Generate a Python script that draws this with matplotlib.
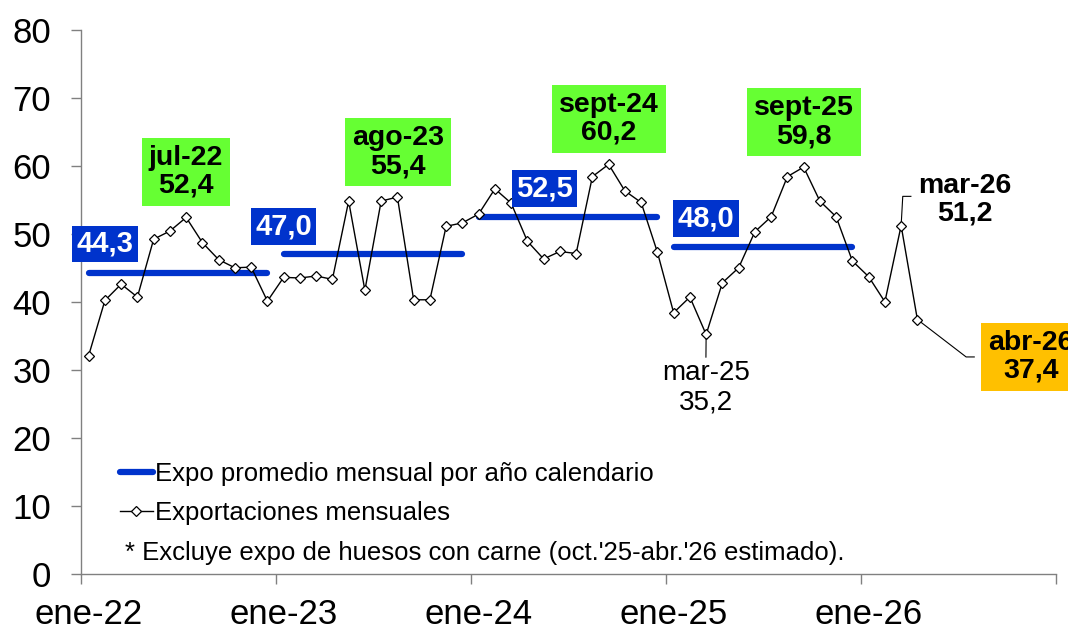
import matplotlib.pyplot as plt
from matplotlib.lines import Line2D

plt.rcParams['font.family'] = ['Liberation Sans', 'DejaVu Sans']

# ==================== 数据 ====================
# Exportaciones mensuales, ene-22 ... abr-26
expo_mensual = [
    32.1, 40.2, 42.6, 40.7, 49.2, 50.4, 52.4, 48.7, 46.2, 45.0, 45.1, 40.1,  # 2022
    43.6, 43.5, 43.8, 43.3, 54.8, 41.7, 54.8, 55.4, 40.3, 40.3, 51.1, 51.6,  # 2023
    52.9, 56.6, 54.5, 48.9, 46.3, 47.4, 47.1, 58.4, 60.2, 56.3, 54.6, 47.3,  # 2024
    38.4, 40.7, 35.2, 42.8, 45.0, 50.3, 52.5, 58.4, 59.8, 54.8, 52.5, 46.0,  # 2025
    43.7, 40.0, 51.2, 37.4,                                                  # 2026
]
anios = [2022, 2023, 2024, 2025]
promedio_anual = [44.3, 47.0, 52.5, 48.0]
promedio_txt = ['44,3', '47,0', '52,5', '48,0']
tick_labels = ['ene-22', 'ene-23', 'ene-24', 'ene-25', 'ene-26']

picos = [('jul-22', 52.4), ('ago-23', 55.4), ('sept-24', 60.2), ('sept-25', 59.8)]

AZUL = '#0033CC'
VERDE = '#66FF33'
NARANJA = '#FFC000'

# ==================== 图 ====================
fig = plt.figure(figsize=(10.68, 6.29), dpi=100)
ax = fig.add_axes([0.0754, 0.0874, 0.9129, 0.8655])

x = [i + 0.5 for i in range(len(expo_mensual))]

# promedio por año
for k, (a, p) in enumerate(zip(anios, promedio_anual)):
    ax.plot([k * 12 + 0.5, k * 12 + 11.5], [p, p], color=AZUL, lw=4.5,
            solid_capstyle='round', zorder=2)

ax.plot(x, expo_mensual, color='black', lw=1, marker='D', ms=5.5,
        mfc='white', mec='black', mew=0.9, zorder=3)

# etiquetas de promedio (caja azul)
prom_pos = [(1.51, 48.5), (12.49, 51.1), (28.55, 56.6), (38.49, 52.2)]
for (px, py), t in zip(prom_pos, promedio_txt):
    ax.text(px, py, t, color='white', fontsize=21, fontweight='bold',
            ha='center', va='center', zorder=5,
            bbox=dict(boxstyle='square,pad=0.15', fc=AZUL, ec='none'))

# picos (caja verde)
picos_pos = [(6.49, 59.1), (19.54, 62.0), (32.52, 66.9), (44.52, 66.4)]
for (px, py), (lab, v) in zip(picos_pos, picos):
    ax.text(px, py, f'{lab}\n{v:.1f}'.replace('.', ','), fontsize=20.5,
            fontweight='bold', ha='center', va='center', linespacing=1.1,
            zorder=5, bbox=dict(boxstyle='square,pad=0.25', fc=VERDE, ec='none'))

# mar-25
ax.annotate('mar-25\n35,2', xy=(x[38], expo_mensual[38]), xytext=(38.47, 27.4),
            fontsize=20, ha='center', va='center', linespacing=1.15,
            arrowprops=dict(arrowstyle='-', color='black', lw=0.8,
                            shrinkA=0, shrinkB=3))

# mar-26
ax.plot([x[50], x[50] + 0.1, x[50] + 0.6], [expo_mensual[50], 55.5, 55.5],
        color='black', lw=0.8, zorder=2)
ax.text(54.4, 55.0, 'mar-26\n51,2', fontsize=20.5, fontweight='bold',
        ha='center', va='center', linespacing=1.1)

# abr-26 (la caja queda cortada en el borde, como en el original)
ax.plot([x[51], 54.5, 55.0], [expo_mensual[51], 31.9, 31.9],
        color='black', lw=0.8, zorder=2)
ax.text(58.5, 31.9, 'abr-26\n37,4', fontsize=20.5, fontweight='bold',
        ha='center', va='center', linespacing=1.1, clip_on=False,
        bbox=dict(boxstyle='square,pad=0.25', fc=NARANJA, ec='none'))

# ejes
ax.set_xlim(0, 60)
ax.set_ylim(0, 80)
ax.set_yticks(range(0, 81, 10))
ax.set_xticks(range(0, 61, 12))
ax.set_xticklabels([])
ax.set_xticks([0.5 + 12 * i for i in range(5)], minor=True)
ax.set_xticklabels(tick_labels, minor=True)
ax.tick_params(axis='x', which='major', length=7, color='#808080', width=1)
ax.tick_params(axis='x', which='minor', length=0, pad=17, labelsize=25)
ax.tick_params(axis='y', length=7, color='#808080', width=1, pad=14,
               labelsize=25)
for s in ['top', 'right']:
    ax.spines[s].set_visible(False)
for s in ['left', 'bottom']:
    ax.spines[s].set_color('#808080')
    ax.spines[s].set_linewidth(1)

# leyenda
handles = [
    Line2D([], [], color=AZUL, lw=4.5, solid_capstyle='round'),
    Line2D([], [], color='black', lw=1, marker='D', ms=5.5, mfc='white',
           mec='black', mew=0.9),
]
ax.legend(handles, ['Expo promedio mensual por año calendario',
                    'Exportaciones mensuales'],
          loc='upper left', bbox_to_anchor=(0.04, 0.205), frameon=False,
          fontsize=18.5, handlelength=1.3, handletextpad=0.1,
          labelspacing=0.55, borderpad=0, borderaxespad=0)
ax.text(0.046, 0.039, "* Excluye expo de huesos con carne (oct.'25-abr.'26 estimado).",
        transform=ax.transAxes, fontsize=18.5, ha='left', va='center')

plt.savefig('out.png', dpi=100)
